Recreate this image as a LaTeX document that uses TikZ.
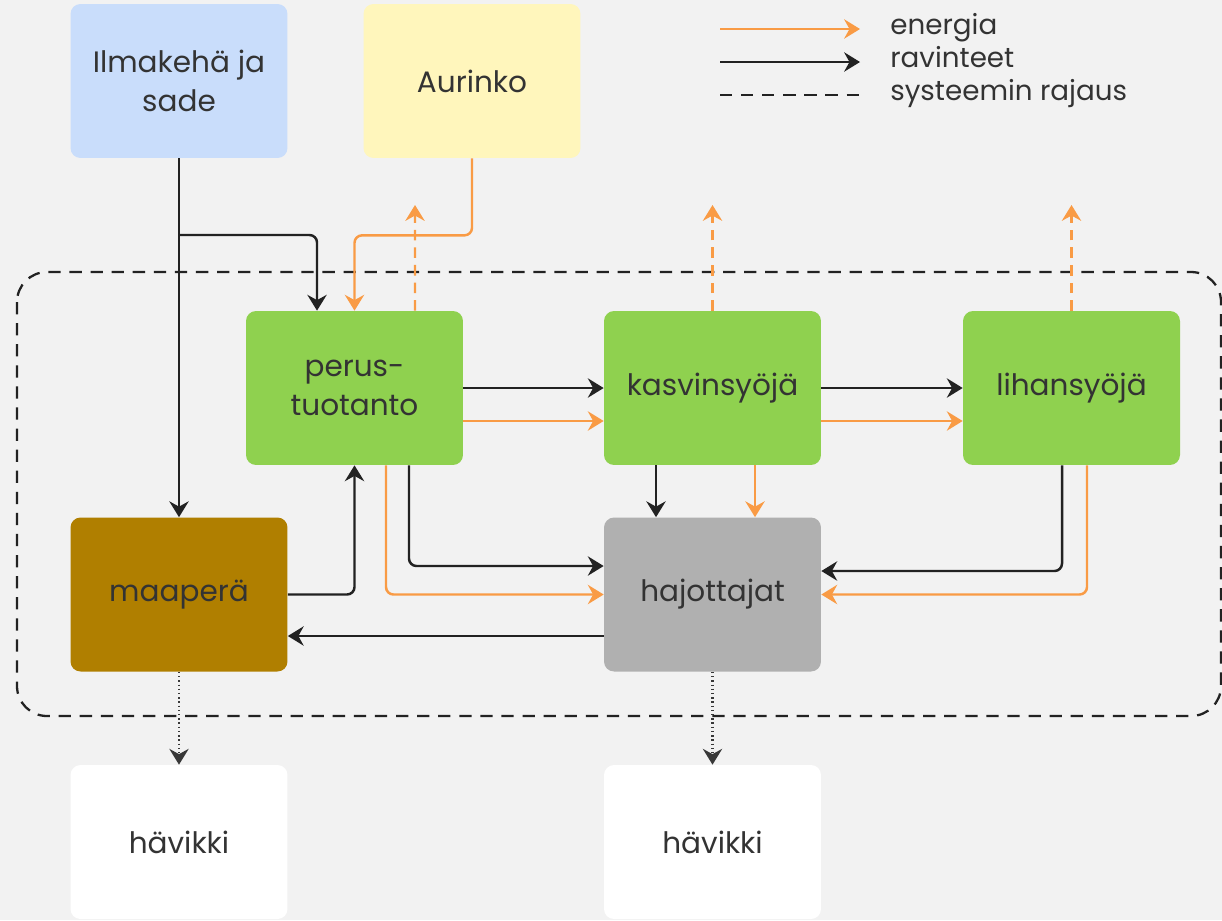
\documentclass[tikz,border=0pt]{standalone}
\usepackage{fontspec}
\setmainfont{Poppins}
\usetikzlibrary{arrows.meta}

\definecolor{tausta}{HTML}{F2F2F2}
\definecolor{oranssi}{HTML}{F99B45}
\definecolor{musta}{HTML}{222222}
\definecolor{teksti}{HTML}{333333}
\definecolor{sininen}{HTML}{C9DDFB}
\definecolor{keltainen}{HTML}{FFF6BC}
\definecolor{vihrea}{HTML}{8FD14F}
\definecolor{ruskea}{HTML}{B07F00}
\definecolor{harmaa}{HTML}{B0B0B0}

\tikzset{
	laatikko/.style={rounded corners=0.2cm, minimum width=4.34cm, minimum height=3.08cm,
		align=center, text=teksti, font=\fontsize{16.8}{22}\selectfont},
	selite/.style={anchor=base west, inner sep=0pt, text=teksti, font=\fontsize{15.8}{18}\selectfont},
	ravinne/.style={draw=musta, line width=1.4pt, rounded corners=0.15cm,
		-{Stealth[length=9pt, width=11pt, inset=3pt]}},
	energia/.style={ravinne, draw=oranssi},
	rajaus/.style={draw=musta, line width=1.3pt, dash pattern=on 7pt off 5pt},
	havio/.style={draw=musta!90, line width=1.2pt, dash pattern=on 0.8pt off 1.6pt,
		-{Stealth[length=9pt, width=11pt, inset=3pt]}}
}

\begin{document}
\begin{tikzpicture}[x=0.02cm, y=-0.02cm]

\useasboundingbox[fill=tausta] (0,0) rectangle (1222,920);

% Systeemin rajaus
\draw[rajaus, rounded corners=0.6cm] (17,272) rectangle (1221,716);

% Laatikot
\node[laatikko, fill=sininen] (ilma) at (179,81) {Ilmakehä ja\\sade};
\node[laatikko, fill=keltainen] (aurinko) at (472,81) {Aurinko};
\node[laatikko, fill=vihrea] (perus) at (354.5,388) {perus-\\tuotanto};
\node[laatikko, fill=vihrea] (kasvi) at (712.5,388) {kasvinsyöjä};
\node[laatikko, fill=vihrea] (liha) at (1071.5,388) {lihansyöjä};
\node[laatikko, fill=ruskea] (maa) at (179,594.5) {maaperä};
\node[laatikko, fill=harmaa] (hajo) at (712.5,594.5) {hajottajat};
\node[laatikko, fill=white] (hav1) at (179,842) {hävikki};
\node[laatikko, fill=white] (hav2) at (712.5,842) {hävikki};

% Selitteet
\foreach \nimi/\y/\tyyli/\teksti in {s1/34/energia/energia, s2/67/ravinne/ravinteet,
		s3/100/rajaus/systeemin rajaus} {
	\node[selite] (\nimi) at (890,\y) {\teksti};
	\coordinate (\nimi a) at (720,\y-5);
	\coordinate (\nimi b) at (860,\y-5);
	\draw[\tyyli] (\nimi a) -- (\nimi b);
}

% Ravinteet
\coordinate (haara) at (179,235);
\draw[ravinne] (ilma.south) -- (maa.north);
\draw[ravinne] (haara) -| ([xshift=-0.75cm]perus.north);
\draw[ravinne] (perus.east) -- (kasvi.west);
\draw[ravinne] (kasvi.east) -- (liha.west);
\draw[ravinne] (maa.east) -| (perus.south);
\draw[ravinne] ([xshift=1.09cm]perus.south) |- ([yshift=0.57cm]hajo.west);
\draw[ravinne] ([xshift=-1.13cm]kasvi.south) -- ([xshift=-1.13cm]hajo.north);
\draw[ravinne] ([xshift=-0.19cm]liha.south) |- ([yshift=0.47cm]hajo.east);
\draw[ravinne] ([yshift=-0.83cm]hajo.west) -- ([yshift=-0.83cm]maa.east);

% Energia
\draw[energia] (aurinko.south) -- ++(0,77) -| (perus.north);
\draw[energia] ([yshift=-0.66cm]perus.east) -- ([yshift=-0.66cm]kasvi.west);
\draw[energia] ([yshift=-0.66cm]kasvi.east) -- ([yshift=-0.66cm]liha.west);
\draw[energia] ([xshift=0.63cm]perus.south) |- (hajo.west);
\draw[energia] ([xshift=0.85cm]kasvi.south) -- ([xshift=0.85cm]hajo.north);
\draw[energia] ([xshift=0.31cm]liha.south) |- (hajo.east);

% Lämpö ulos systeemistä
\coordinate (ulos1) at (415,205);
\coordinate (ulos2) at (712.5,205);
\coordinate (ulos3) at (1071.5,205);
\draw[energia, dash pattern=on 6pt off 4pt] ([xshift=1.21cm]perus.north) -- (ulos1);
\draw[energia, dash pattern=on 6pt off 4pt] (kasvi.north) -- (ulos2);
\draw[energia, dash pattern=on 6pt off 4pt] (liha.north) -- (ulos3);

% Hävikki
\draw[havio] (maa.south) -- (hav1.north);
\draw[havio] (hajo.south) -- (hav2.north);

\end{tikzpicture}
\end{document}
